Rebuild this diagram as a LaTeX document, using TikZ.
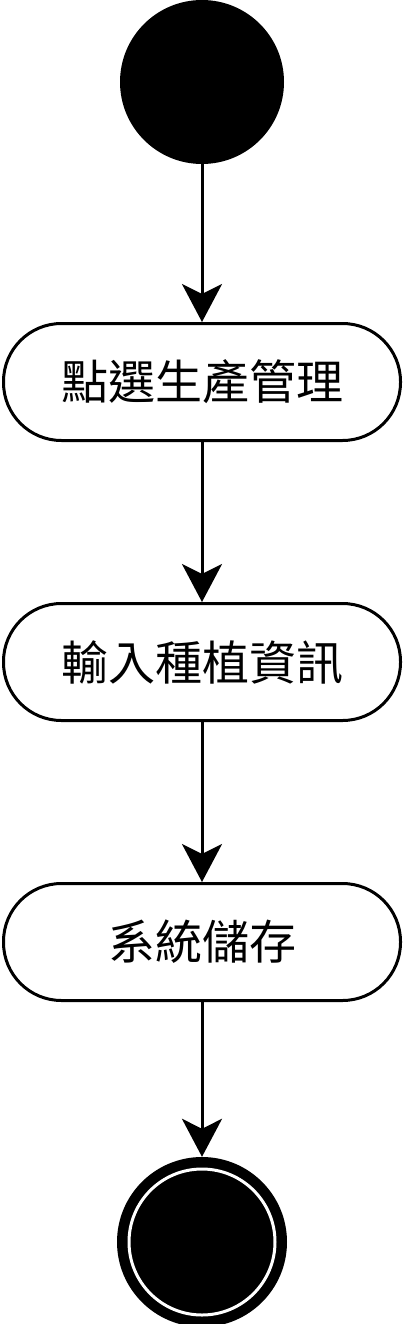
\documentclass[tikz,border=0pt]{standalone}
\usepackage{fontspec}
\newfontfamily\cjk{Noto Sans CJK TC}
\usetikzlibrary{arrows.meta}
\begin{document}
\begin{tikzpicture}[x=1pt,y=-1pt,
  actbox/.style={draw=black, line width=3pt, rounded corners=58pt, minimum width=397pt, minimum height=117pt, inner sep=0pt, font=\cjk\fontsize{47}{56}\selectfont, fill=white},
  flow/.style={line width=3pt, -{Stealth[length=38pt,width=40pt,inset=10pt]}}]
\useasboundingbox (0,0) rectangle (404,1324);
\node[circle, fill=black, minimum size=164pt, inner sep=0pt] (start) at (202,82) {};
\node[actbox] (a) at (202,382) {點選生產管理};
\node[actbox] (b) at (202,662) {輸入種植資訊};
\node[actbox] (c) at (202,942) {系統儲存};
\node[circle, fill=black, minimum size=170pt, inner sep=0pt] (end) at (202,1242) {};
\node[circle, draw=white, line width=3pt, minimum size=146pt, inner sep=0pt] (endring) at (202,1242) {};
\draw[flow] (start) -- (a);
\draw[flow] (a) -- (b);
\draw[flow] (b) -- (c);
\draw[flow] (c) -- (end);
\end{tikzpicture}
\end{document}
